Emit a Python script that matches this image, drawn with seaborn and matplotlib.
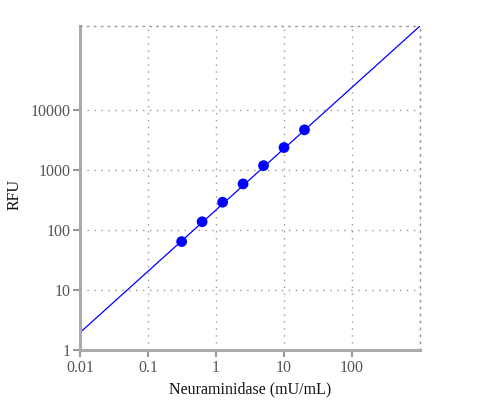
import numpy as np
import pandas as pd
import matplotlib
matplotlib.use("Agg")
import matplotlib.pyplot as plt
import matplotlib.ticker as mticker
import seaborn as sns

# data
conc = [0.3125, 0.625, 1.25, 2.5, 5, 10, 20]
rfu = [64, 137, 290, 585, 1180, 2360, 4650]
fit_x = [0.01, 1000]
fit_y = [1.95, 2.5e5]

x_ticks = [0.01, 0.1, 1, 10, 100]
y_ticks = [1, 10, 100, 1000, 10000]

sns.set_style("white")
plt.rcParams['font.family'] = ['Liberation Serif', 'DejaVu Serif']

fig = plt.figure(figsize=(5, 4), dpi=100)
ax = fig.add_axes([0.16, 0.125, 0.68, 0.81])

pts = pd.DataFrame({"conc": conc, "rfu": rfu})
fit = pd.DataFrame({"x": fit_x, "y": fit_y})

sns.lineplot(data=fit, x="x", y="y", color="#0000ff", linewidth=0.9, ax=ax)
sns.scatterplot(data=pts, x="conc", y="rfu", color="#0000ff", s=60,
                edgecolor="none", ax=ax, zorder=3)

ax.set_xscale("log")
ax.set_yscale("log")
ax.set_xlim(0.01, 1000)
ax.set_ylim(1, 2.5e5)

ax.xaxis.set_major_locator(mticker.FixedLocator(x_ticks))
ax.yaxis.set_major_locator(mticker.FixedLocator(y_ticks))
ax.xaxis.set_major_formatter(mticker.FixedFormatter([str(v) for v in x_ticks]))
ax.yaxis.set_major_formatter(mticker.FixedFormatter([str(v) for v in y_ticks]))
ax.xaxis.set_minor_locator(mticker.LogLocator(base=10, subs=np.arange(2, 10)))
ax.yaxis.set_minor_locator(mticker.LogLocator(base=10, subs=np.arange(2, 10)))
ax.xaxis.set_minor_formatter(mticker.NullFormatter())
ax.yaxis.set_minor_formatter(mticker.NullFormatter())

ax.grid(True, which="major", linestyle=(0, (1, 4)), color="#999999", linewidth=1)
ax.axvline(1000, linestyle=(0, (1, 4)), color="#999999", linewidth=1)

for s in ["left", "bottom"]:
    ax.spines[s].set_color("#aaaaaa")
    ax.spines[s].set_linewidth(2.2)
for s in ["top", "right"]:
    ax.spines[s].set_color("#999999")
    ax.spines[s].set_linestyle((0, (1, 4)))
    ax.spines[s].set_linewidth(1)

ax.tick_params(which="major", length=5, width=1.5, color="#999999",
               labelsize=11.5, labelcolor="#555555", pad=2, left=True, bottom=True)
ax.tick_params(which="minor", length=2, width=1, color="#888888",
               direction="inout", left=True, bottom=True)

ax.set_xlabel("Neuraminidase (mU/mL)", fontsize=11.5, color="#111111", labelpad=4)
ax.set_ylabel("RFU", fontsize=11.5, color="#111111")
ax.yaxis.set_label_coords(-0.17, 0.48)

fig.savefig("out.png", dpi=100)
